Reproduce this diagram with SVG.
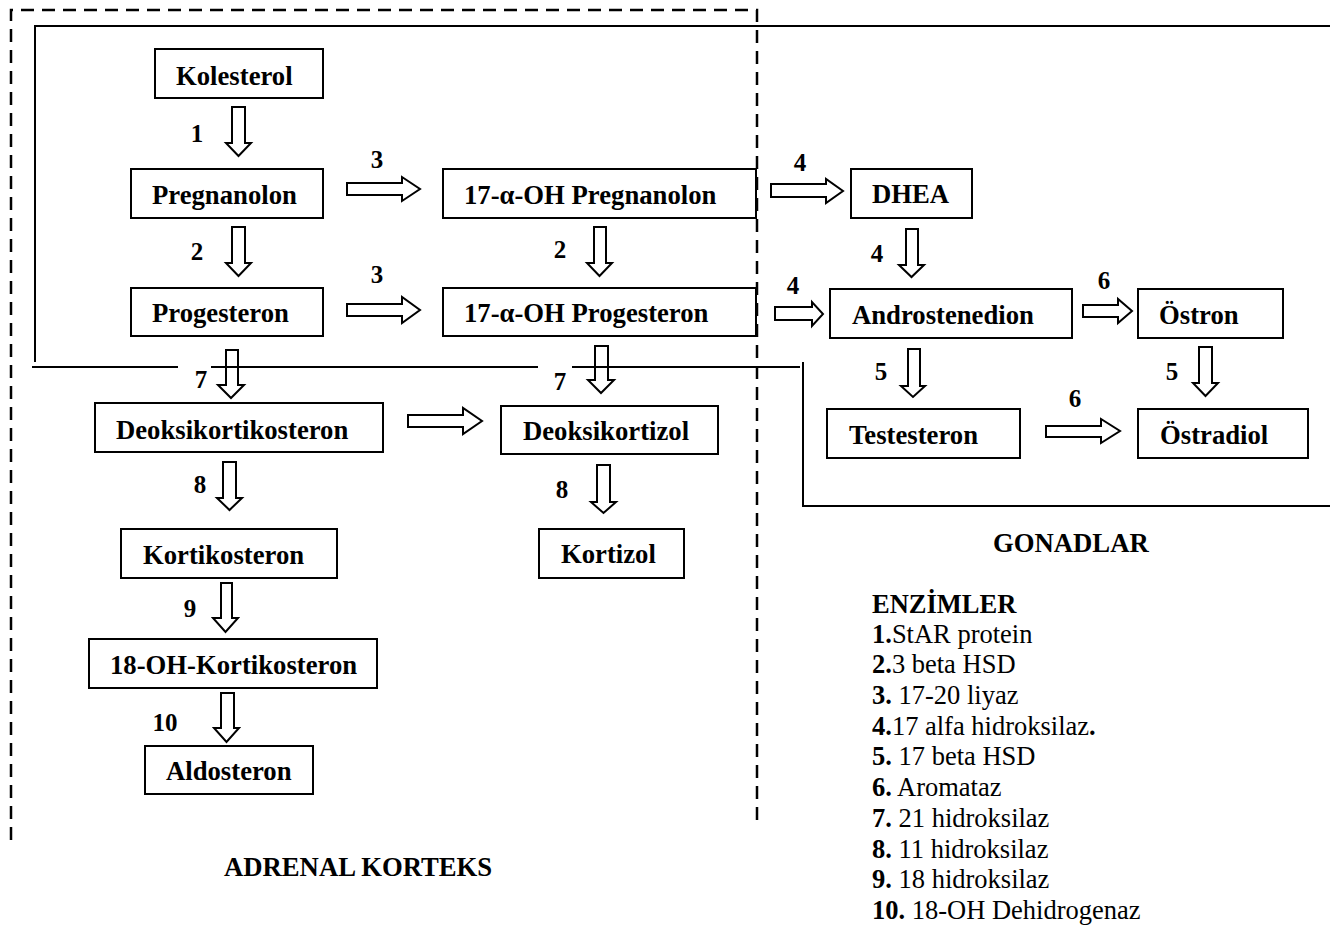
<svg xmlns="http://www.w3.org/2000/svg" width="1330" height="930" viewBox="0 0 1330 930">
<style>
.box{fill:#fff;stroke:#000;stroke-width:2}
.t{font-family:"Liberation Serif","Times New Roman",serif;font-weight:bold;font-size:26.7px;fill:#000}
.n{font-family:"Liberation Serif","Times New Roman",serif;font-weight:bold;font-size:25px;fill:#000}
.e{font-family:"Liberation Serif","Times New Roman",serif;font-size:26.5px;fill:#000}
.b{font-weight:bold}
.arr{fill:none;stroke:#000;stroke-width:2;stroke-linejoin:miter}
.frame{fill:none;stroke:#000;stroke-width:2}
.dash{fill:none;stroke:#000;stroke-width:2.5;stroke-dasharray:13 8}
</style>
<rect width="1330" height="930" fill="#fff"/>
<g id="regions">
<path class="dash" d="M11 840 V10 H757 V822"/>
<path class="frame" d="M35 362 V26 H1330"/>
<path class="frame" d="M32 367 H178 M211 367 H538 M572 367 H800"/>
<path class="frame" d="M803 362 V506 H1330"/>
</g>
<g id="connectors">
<path class="arr" d="M232 107 H245 V143 H251 L238.5 156 L226 143 H232 Z"/>
<path class="arr" d="M232 227 H245 V263 H251 L238.5 276 L226 263 H232 Z"/>
<path class="arr" d="M594 227 H606 V263 H612 L599.5 276 L587 263 H594 Z"/>
<path class="arr" d="M906 229 H918 V265 H924 L911.5 277 L899 265 H906 Z"/>
<path class="arr" d="M226 350 H238 V385 H244 L231 398 L218 385 H226 Z"/>
<path class="arr" d="M595 346 H608 V380 H614 L601 393 L588 380 H595 Z"/>
<path class="arr" d="M223 462 H236 V498 H242 L229.5 510 L217 498 H223 Z"/>
<path class="arr" d="M597 465 H610 V502 H616 L603.5 513 L591 502 H597 Z"/>
<path class="arr" d="M221 583 H232 V618 H238 L225.5 632 L213 618 H221 Z"/>
<path class="arr" d="M221 693 H234 V728 H239 L226.5 742 L214 728 H221 Z"/>
<path class="arr" d="M908 349 H920 V386 H925 L913 397 L901 386 H908 Z"/>
<path class="arr" d="M1199 347 H1212 V383 H1218 L1205.5 396 L1193 383 H1199 Z"/>
<path class="arr" d="M347 183 H402 V177 L420 189 L402 201 V195 H347 Z"/>
<path class="arr" d="M347 304 H402 V297 L420 310 L402 323 V316 H347 Z"/>
<path class="arr" d="M771 184 H826 V179 L843 191 L826 203 V197 H771 Z"/>
<path class="arr" d="M775 307 H812 V302 L823 314 L812 326 V320 H775 Z"/>
<path class="arr" d="M1083 305 H1118 V299 L1132 311 L1118 323 V317 H1083 Z"/>
<path class="arr" d="M408 415 H463 V408 L482 421 L463 434 V427 H408 Z"/>
<path class="arr" d="M1046 426 H1101 V419 L1120 431 L1101 443 V437 H1046 Z"/>
</g>
<g id="labels">
<text class="n" x="197" y="142" text-anchor="middle">1</text>
<text class="n" x="197" y="260" text-anchor="middle">2</text>
<text class="n" x="560" y="258" text-anchor="middle">2</text>
<text class="n" x="377" y="168" text-anchor="middle">3</text>
<text class="n" x="377" y="283" text-anchor="middle">3</text>
<text class="n" x="800" y="171" text-anchor="middle">4</text>
<text class="n" x="877" y="262" text-anchor="middle">4</text>
<text class="n" x="793" y="294" text-anchor="middle">4</text>
<text class="n" x="881" y="380" text-anchor="middle">5</text>
<text class="n" x="1172" y="380" text-anchor="middle">5</text>
<text class="n" x="1104" y="289" text-anchor="middle">6</text>
<text class="n" x="1075" y="407" text-anchor="middle">6</text>
<text class="n" x="201" y="388" text-anchor="middle">7</text>
<text class="n" x="560" y="390" text-anchor="middle">7</text>
<text class="n" x="200" y="493" text-anchor="middle">8</text>
<text class="n" x="562" y="498" text-anchor="middle">8</text>
<text class="n" x="190" y="617" text-anchor="middle">9</text>
<text class="n" x="165" y="731" text-anchor="middle">10</text>
</g>
<g id="kolesterol"><rect class="box" x="155" y="49" width="168" height="49"/><text class="t" x="176" y="85">Kolesterol</text></g>
<g id="pregnanolon"><rect class="box" x="131" y="169" width="192" height="49"/><text class="t" x="152" y="204">Pregnanolon</text></g>
<g id="oh-pregnanolon"><rect class="box" x="443" y="169" width="313" height="49"/><text class="t" x="464" y="204">17-α-OH Pregnanolon</text></g>
<g id="progesteron"><rect class="box" x="131" y="288" width="192" height="48"/><text class="t" x="152" y="322">Progesteron</text></g>
<g id="oh-progesteron"><rect class="box" x="443" y="288" width="313" height="48"/><text class="t" x="464" y="322">17-α-OH Progesteron</text></g>
<g id="dhea"><rect class="box" x="851" y="169" width="121" height="49"/><text class="t" x="872" y="203">DHEA</text></g>
<g id="androstenedion"><rect class="box" x="830" y="289" width="242" height="49"/><text class="t" x="852" y="324">Androstenedion</text></g>
<g id="ostron"><rect class="box" x="1138" y="289" width="145" height="49"/><text class="t" x="1159" y="324">Östron</text></g>
<g id="testesteron"><rect class="box" x="827" y="409" width="193" height="49"/><text class="t" x="849" y="444">Testesteron</text></g>
<g id="ostradiol"><rect class="box" x="1138" y="409" width="170" height="49"/><text class="t" x="1160" y="444">Östradiol</text></g>
<g id="deoksikortikosteron"><rect class="box" x="95" y="403" width="288" height="49"/><text class="t" x="116" y="439">Deoksikortikosteron</text></g>
<g id="deoksikortizol"><rect class="box" x="501" y="406" width="217" height="48"/><text class="t" x="523" y="440">Deoksikortizol</text></g>
<g id="kortizol"><rect class="box" x="539" y="529" width="145" height="49"/><text class="t" x="561" y="563">Kortizol</text></g>
<g id="kortikosteron"><rect class="box" x="121" y="529" width="216" height="49"/><text class="t" x="143" y="564">Kortikosteron</text></g>
<g id="oh-kortikosteron"><rect class="box" x="89" y="639" width="288" height="49"/><text class="t" x="110" y="674">18-OH-Kortikosteron</text></g>
<g id="aldosteron"><rect class="box" x="145" y="746" width="168" height="48"/><text class="t" x="166" y="780">Aldosteron</text></g>
<g id="titles">
<text class="t" x="993" y="552">GONADLAR</text>
<text class="t" x="224" y="876">ADRENAL KORTEKS</text>
</g>
<g id="enzymes">
<text class="e b" x="872" y="613">ENZİMLER</text>
<text class="e" x="872" y="643"><tspan class="b">1.</tspan>StAR protein</text>
<text class="e" x="872" y="673"><tspan class="b">2.</tspan>3 beta HSD</text>
<text class="e" x="872" y="704"><tspan class="b">3.</tspan> 17-20 liyaz</text>
<text class="e" x="872" y="735"><tspan class="b">4.</tspan>17 alfa hidroksilaz<tspan class="b">.</tspan></text>
<text class="e" x="872" y="765"><tspan class="b">5.</tspan> 17 beta HSD</text>
<text class="e" x="872" y="796"><tspan class="b">6.</tspan> Aromataz</text>
<text class="e" x="872" y="827"><tspan class="b">7.</tspan> 21 hidroksilaz</text>
<text class="e" x="872" y="858"><tspan class="b">8.</tspan> 11 hidroksilaz</text>
<text class="e" x="872" y="888"><tspan class="b">9.</tspan> 18 hidroksilaz</text>
<text class="e" x="872" y="919"><tspan class="b">10.</tspan> 18-OH Dehidrogenaz</text>
</g>
</svg>
